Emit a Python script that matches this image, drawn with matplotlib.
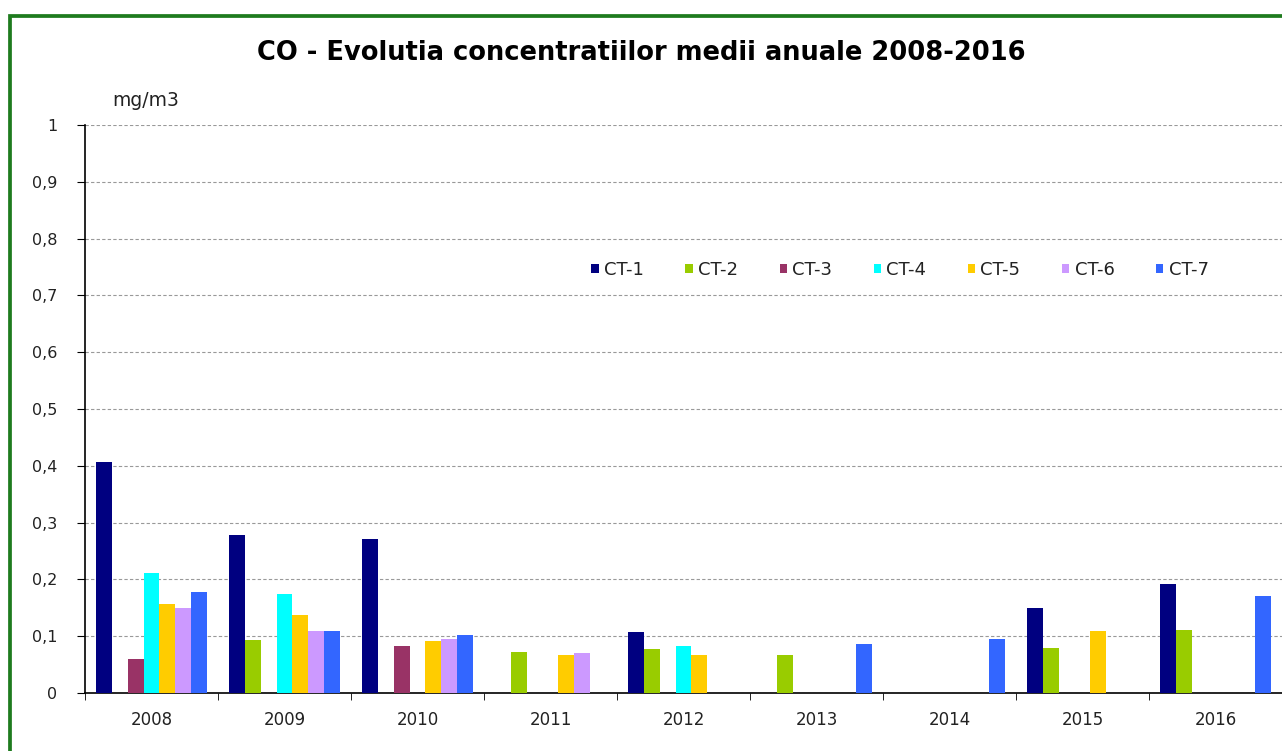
import matplotlib
matplotlib.use("Agg")
import matplotlib.pyplot as plt
import numpy as np
from matplotlib.patches import Rectangle

plt.rcParams['font.family'] = ['DejaVu Sans']

years = ['2008', '2009', '2010', '2011', '2012', '2013', '2014', '2015', '2016']
series_names = ['CT-1', 'CT-2', 'CT-3', 'CT-4', 'CT-5', 'CT-6', 'CT-7']
nan = np.nan
ct1 = [0.407, 0.279, 0.272, nan, 0.107, nan, nan, 0.150, 0.192]
ct2 = [nan, 0.093, nan, 0.073, 0.077, 0.067, nan, 0.079, 0.111]
ct3 = [0.059, nan, 0.083, nan, nan, nan, nan, nan, nan]
ct4 = [0.212, 0.174, nan, nan, 0.083, nan, nan, nan, nan]
ct5 = [0.156, 0.138, 0.092, 0.067, 0.067, nan, nan, 0.110, nan]
ct6 = [0.149, 0.109, 0.095, 0.070, nan, nan, nan, nan, nan]
ct7 = [0.178, 0.109, 0.102, nan, nan, 0.087, 0.095, nan, 0.170]
colors = ['#000080', '#99CC00', '#993366', '#00FFFF', '#FFCC00', '#CC99FF', '#3366FF']
yticks = [0, 0.1, 0.2, 0.3, 0.4, 0.5, 0.6, 0.7, 0.8, 0.9, 1.0]
ytick_labels = ['0', '0,1', '0,2', '0,3', '0,4', '0,5', '0,6', '0,7', '0,8', '0,9', '1']

W, H = 1282, 751
fig = plt.figure(figsize=(W / 100, H / 100), dpi=100)
fig.patch.set_facecolor('white')

# green frame (cropped on right and bottom)
fig.patches.append(Rectangle((10 / W, -0.05), 1.2, 1 - 16.5 / H + 0.05,
                             transform=fig.transFigure, fill=False,
                             edgecolor='#1E7B1E', linewidth=2.7, clip_on=False))

ax = fig.add_axes([85 / W, 58 / H, (W - 85) / W, (693 - 125) / H])
data = [ct1, ct2, ct3, ct4, ct5, ct6, ct7]
x = np.arange(len(years))
bw = 0.12
for i, (name, vals, c) in enumerate(zip(series_names, data, colors)):
    ax.bar(x + (i - 3) * bw, vals, width=bw, color=c, label=name, zorder=3)

ax.set_xlim(-0.5, len(years) - 0.5)
ax.set_ylim(0, 1)
ax.set_yticks(yticks)
ax.set_yticklabels(ytick_labels, fontsize=11.5, color='#222222')
ax.set_xticks(x)
ax.set_xticklabels(years, fontsize=12, color='#222222')
ax.set_xticks(np.arange(-0.5, len(years) + 0.5, 1), minor=True)
ax.tick_params(axis='x', which='major', length=0, pad=13)
ax.tick_params(axis='x', which='minor', length=5, direction='out')
ax.tick_params(axis='y', length=6, direction='out', pad=14)
for s in ['top', 'right']:
    ax.spines[s].set_visible(False)
ax.spines['left'].set_linewidth(1.2)
ax.spines['bottom'].set_linewidth(1.2)
ax.yaxis.grid(True, linestyle=(0, (3, 2)), color='#999999', linewidth=0.8, zorder=0)
ax.set_axisbelow(True)

leg = ax.legend(loc='center', bbox_to_anchor=((900 - 85) / (W - 85), (693 - 270) / 568),
                ncol=7, frameon=False, fontsize=13, handlelength=0.4, handleheight=0.4,
                handletextpad=0.3, columnspacing=2.3)
for t in leg.get_texts():
    t.set_color('#222222')

fig.text(641 / W, 1 - 53 / H, 'CO - Evolutia concentratiilor medii anuale 2008-2016',
         ha='center', va='center', fontsize=18.5, fontweight='bold')
fig.text(112 / W, 1 - 100 / H, 'mg/m3', ha='left', va='center', fontsize=13.5,
         color='#222222')

fig.savefig('out.png', dpi=100)
